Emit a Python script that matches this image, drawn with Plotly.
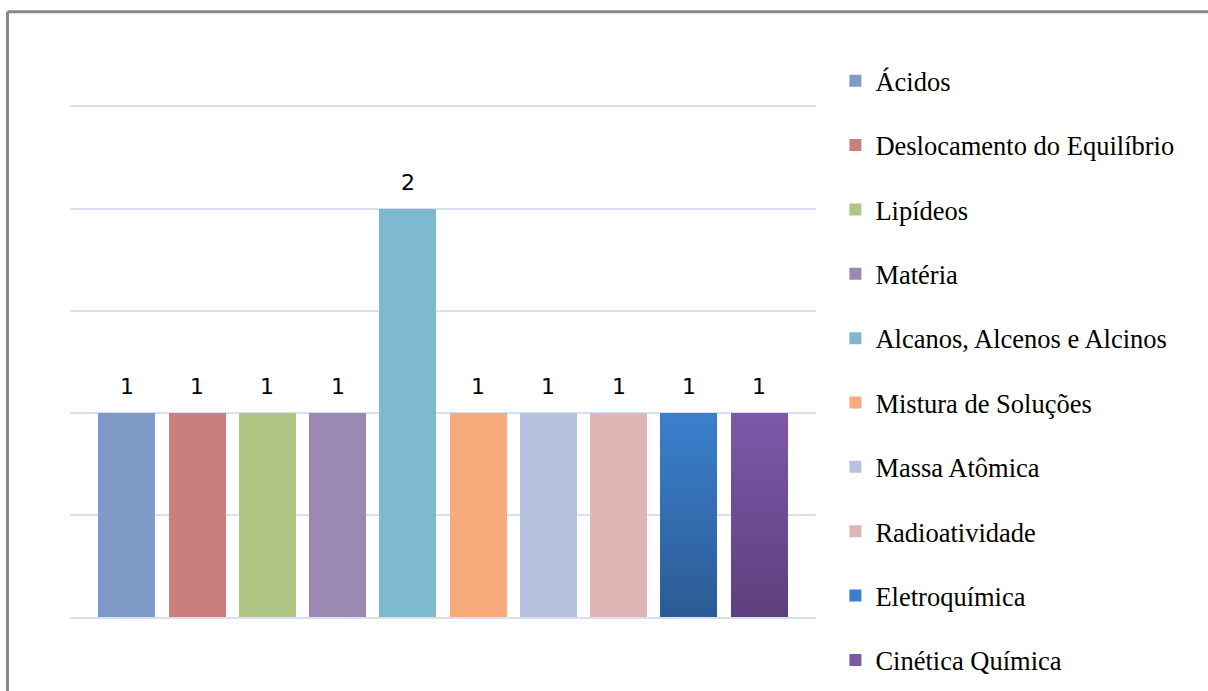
import plotly.graph_objects as go

# Topics and how many times each appeared
topicos = [
    "Ácidos",
    "Deslocamento do Equilíbrio",
    "Lipídeos",
    "Matéria",
    "Alcanos, Alcenos e Alcinos",
    "Mistura de Soluções",
    "Massa Atômica",
    "Radioatividade",
    "Eletroquímica",
    "Cinética Química",
]
quantidades = [1, 1, 1, 1, 2, 1, 1, 1, 1, 1]

# Flat fills; None marks topics drawn with a vertical gradient
cores = [
    "#7E9BC8", "#CA7E7D", "#AFC685", "#9C89B3", "#7DBAD0",
    "#F7AB7A", "#B5C3DE", "#DFB6B5", None, None,
]
# (top colour, bottom colour) for the gradient-filled bars
gradientes = {
    8: ((58, 127, 205), (44, 91, 149)),
    9: ((123, 89, 168), (94, 64, 127)),
}

LARGURA = 0.81
N_FAIXAS = 40
COR_GRADE = "#D6E0F0"


def mistura(c1, c2, t):
    return "rgb({},{},{})".format(*[round(a + (b - a) * t) for a, b in zip(c1, c2)])


fig = go.Figure()
for i, (nome, valor) in enumerate(zip(topicos, quantidades)):
    if i in gradientes:
        topo, base_cor = gradientes[i]
        passo = valor / N_FAIXAS
        # stack thin slices from top to bottom so the bar fades downward
        bases = [valor - (k + 1) * passo for k in range(N_FAIXAS)]
        cores_faixa = [mistura(topo, base_cor, k / (N_FAIXAS - 1)) for k in range(N_FAIXAS)]
        fig.add_trace(go.Bar(
            x=[i] * N_FAIXAS, y=[passo] * N_FAIXAS, base=bases,
            width=LARGURA, name=nome, legendgroup=nome,
            marker=dict(color=cores_faixa, line=dict(width=0)),
            hoverinfo="skip",
        ))
    else:
        fig.add_trace(go.Bar(
            x=[i], y=[valor], width=LARGURA, name=nome, legendgroup=nome,
            marker=dict(color=cores[i], line=dict(width=0)),
        ))
    fig.add_annotation(
        x=i, y=valor, text=str(valor), showarrow=False,
        yanchor="middle", yshift=27,
        font=dict(family="DejaVu Sans", size=22, color="#000000"),
    )

# Outer frame (top and left edges)
frame = dict(color="#878787", width=3)
fig.add_shape(type="line", xref="paper", yref="paper",
              x0=-0.0838, x1=1.53, y0=1.187, y1=1.187, line=frame)
fig.add_shape(type="line", xref="paper", yref="paper",
              x0=-0.0838, x1=-0.0838, y0=1.187, y1=-0.2, line=frame)

fig.update_layout(
    width=1208, height=691,
    margin=dict(l=70, r=392, t=107, b=74),
    paper_bgcolor="white", plot_bgcolor="white",
    barmode="overlay", bargap=0,
    showlegend=True,
    legend=dict(
        x=1.026, xanchor="left", y=1.098, yanchor="top",
        traceorder="grouped", tracegroupgap=26.9, maxheight=680,
        font=dict(family="Liberation Serif", size=26.5, color="#000000"),
        bgcolor="rgba(0,0,0,0)", itemclick=False,
    ),
    xaxis=dict(range=[-LARGURA, len(topicos) - 1 + LARGURA],
               showticklabels=False, showgrid=False, zeroline=False,
               ticks="", fixedrange=True,
               showline=True, mirror=True, linecolor=COR_GRADE, linewidth=2),
    yaxis=dict(range=[0, 2.5], dtick=0.5, showticklabels=False,
               showgrid=True, gridcolor=COR_GRADE, gridwidth=2,
               zeroline=False, ticks="", fixedrange=True, showline=False),
)

fig.write_html("out.html")
